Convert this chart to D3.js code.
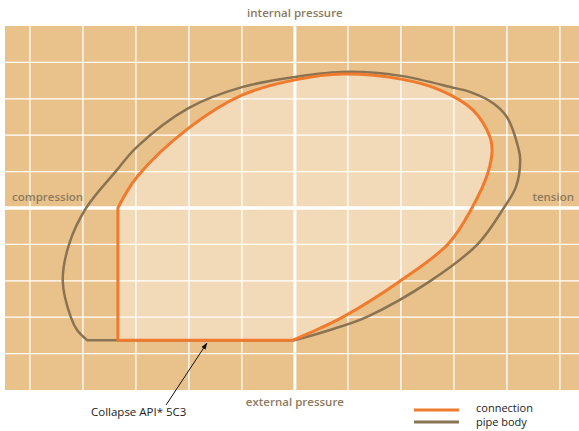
<!DOCTYPE html>
<html>
<head>
<meta charset="utf-8">
<script src="https://cdn.jsdelivr.net/npm/d3@7"></script>
<style>
  body { margin: 0; background: #fff; }
  text { font-family: "Open Sans", "Noto Sans", sans-serif; }
</style>
</head>
<body>
<div id="chart"></div>
<script>
// grid units: x = axial load (compression < 0 < tension), y = pressure (external < 0 < internal)
const xGrid = [-5, -4, -3, -2, -1, 0, 1, 2, 3, 4, 5];
const yGrid = [-4, -3, -2, -1, 0, 1, 2, 3, 4];

// connection envelope: curved part from compression kink round to the collapse line
const connectionArc = [
    [-3.34, 0], [-2.98, 0.85], [-2.00, 2.20], [-1.00, 3.10], [0, 3.52],
    [0.91, 3.68], [2.00, 3.54], [2.74, 3.24], [3.36, 2.69], [3.68, 1.95],
    [3.72, 1.59], [3.64, 0.96], [3.34, 0], [2.89, -0.99], [1.98, -2.01],
    [0.91, -2.99], [0.28, -3.43], [-0.04, -3.63]
];
// straight parts: collapse line and compression limit
const connectionStraight = [[-3.34, -3.63], [-3.34, 0]];

// pipe body envelope
const pipeBodyArc = [
    [-3.92, -3.63], [-4.11, -3.35], [-4.23, -2.99], [-4.38, -2.01], [-4.26, -0.99],
    [-3.94, 0], [-3.36, 1.04], [-2.98, 1.68], [-2.00, 2.75], [-1.00, 3.32],
    [0, 3.60], [1.00, 3.74], [2.00, 3.63], [3.00, 3.30], [3.30, 3.19],
    [3.74, 2.88], [4.00, 2.50], [4.21, 1.68], [4.25, 1.32], [4.17, 0.58],
    [3.94, 0], [3.45, -0.99], [2.55, -2.01], [1.36, -2.99], [0.66, -3.35], [0, -3.63]
];

const annotation = { text: "Collapse API* 5C3", from: [-2.43, -5.41], to: [-1.66, -3.71] };
const legendItems = [
    { label: "connection", color: "#f07a2e" },
    { label: "pipe body", color: "#8a7352" }
];

const width = 579, height = 431;
const x = d3.scaleLinear().domain([-5.47, 5.36]).range([5, 579]);
const y = d3.scaleLinear().domain([-5, 5]).range([390, 26]);

const svg = d3.select("#chart").append("svg")
    .attr("width", width)
    .attr("height", height);

svg.append("defs").append("marker")
    .attr("id", "arrow")
    .attr("viewBox", "0 0 10 10")
    .attr("refX", 9).attr("refY", 5)
    .attr("markerWidth", 7).attr("markerHeight", 7)
    .attr("orient", "auto")
    .append("path")
    .attr("d", "M0,1.5L10,5L0,8.5Z")
    .attr("fill", "#111");

svg.append("rect")
    .attr("x", x(-5.47)).attr("y", y(5))
    .attr("width", x(5.36) - x(-5.47))
    .attr("height", y(-5) - y(5))
    .attr("fill", "#e9c28b");

// grid
svg.append("g").selectAll("line").data(xGrid).join("line")
    .attr("x1", d => x(d)).attr("x2", d => x(d))
    .attr("y1", y(5)).attr("y2", y(-5))
    .attr("stroke", "#fff")
    .attr("stroke-width", d => d === 0 ? 3 : 1.3);

svg.append("g").selectAll("line").data(yGrid).join("line")
    .attr("x1", x(-5.47)).attr("x2", x(5.36))
    .attr("y1", d => y(d)).attr("y2", d => y(d))
    .attr("stroke", "#fff")
    .attr("stroke-width", d => d === 0 ? 3.5 : 1.3);

const smooth = d3.line()
    .x(d => x(d[0]))
    .y(d => y(d[1]))
    .curve(d3.curveCatmullRom.alpha(0.5));

let connectionPath = smooth(connectionArc)
    + connectionStraight.map(d => "L" + x(d[0]) + "," + y(d[1])).join("") + "Z";
let pipePath = smooth(pipeBodyArc) + "Z";

svg.append("path")
    .attr("d", connectionPath)
    .attr("fill", "#fff")
    .attr("fill-opacity", 0.4);

svg.append("path")
    .attr("d", pipePath)
    .attr("fill", "none")
    .attr("stroke", legendItems[1].color)
    .attr("stroke-width", 2.5);

svg.append("path")
    .attr("d", connectionPath)
    .attr("fill", "none")
    .attr("stroke", legendItems[0].color)
    .attr("stroke-width", 3)
    .attr("stroke-linejoin", "round");

// axis labels
const labelColor = "#8c7a5e";
svg.append("text").attr("x", x(0)).attr("y", 17)
    .attr("text-anchor", "middle").attr("font-size", 11.5).attr("font-weight", 600)
    .attr("fill", labelColor).text("internal pressure");
svg.append("text").attr("x", x(0)).attr("y", 406)
    .attr("text-anchor", "middle").attr("font-size", 11.5).attr("font-weight", 600)
    .attr("fill", labelColor).text("external pressure");
svg.append("text").attr("x", 12).attr("y", 201)
    .attr("font-size", 11.5).attr("font-weight", 600)
    .attr("fill", labelColor).text("compression");
svg.append("text").attr("x", 574).attr("y", 201)
    .attr("text-anchor", "end").attr("font-size", 11.5).attr("font-weight", 600)
    .attr("fill", labelColor).text("tension");

// annotation
svg.append("line")
    .attr("x1", x(annotation.from[0])).attr("y1", y(annotation.from[1]))
    .attr("x2", x(annotation.to[0])).attr("y2", y(annotation.to[1]))
    .attr("stroke", "#111").attr("stroke-width", 1)
    .attr("marker-end", "url(#arrow)");
svg.append("text").attr("x", 91).attr("y", 416)
    .attr("font-size", 11.5).attr("fill", "#222")
    .text(annotation.text);

// legend
const legend = svg.append("g").selectAll("g").data(legendItems).join("g")
    .attr("transform", (d, i) => "translate(414," + (410 + i * 12) + ")");
legend.append("line")
    .attr("x1", 0).attr("x2", 45)
    .attr("stroke", d => d.color).attr("stroke-width", 3);
legend.append("text")
    .attr("x", 62).attr("y", (d, i) => 2 + i * 2)
    .attr("font-size", 11)
    .attr("fill", "#222")
    .text(d => d.label);
</script>
</body>
</html>
